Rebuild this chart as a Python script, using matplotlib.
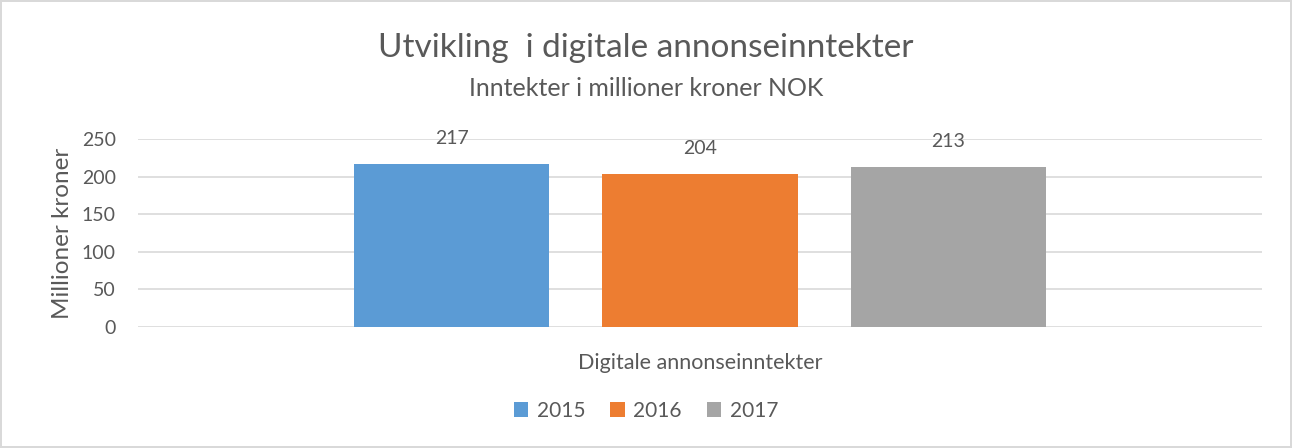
import numpy as np
import matplotlib.pyplot as plt

# data
years = ['2015', '2016', '2017']
values = [217, 204, 213]
category = 'Digitale annonseinntekter'
colors = ['#5B9BD5', '#ED7D31', '#A5A5A5']

plt.rcParams['font.family'] = ['Lato', 'DejaVu Sans']
txt = '#595959'

fig = plt.figure(figsize=(12.92, 4.48), dpi=100)
fig.patch.set_edgecolor('#D9D9D9')
fig.patch.set_linewidth(1.5)
ax = fig.add_axes([138/1292, 1-327/448, 1124/1292, 188/448])

width = 0.1735
offsets = np.array([-0.221, 0.0, 0.221])
for off, yr, v, c in zip(offsets, years, values, colors):
    ax.bar(off, v, width=width, color=c, label=yr, zorder=3)
    ax.text(off, v + 22, str(v), ha='center', va='bottom', fontsize=14, color=txt)

ax.set_xlim(-0.5, 0.5)
ax.set_ylim(0, 250)
ax.set_yticks(range(0, 251, 50))
ax.set_xticks([0])
ax.set_xticklabels([category])
ax.grid(axis='y', color='#D9D9D9', linewidth=1.2, zorder=0)
for s in ax.spines.values():
    s.set_visible(False)
ax.tick_params(axis='y', length=0, labelsize=14, labelcolor=txt, pad=16)
ax.tick_params(axis='x', length=0, labelsize=15.5, labelcolor=txt, pad=19)
ax.set_ylabel('Millioner kroner', fontsize=17.5, color=txt, labelpad=6)

fig.text(0.5, 1-48/448, 'Utvikling  i digitale annonseinntekter', ha='center', va='center', fontsize=24, color=txt)
fig.text(0.5, 1-88/448, 'Inntekter i millioner kroner NOK', ha='center', va='center', fontsize=18, color=txt)

leg = fig.legend(loc='center', bbox_to_anchor=(0.5, 1-411/448), ncol=3, frameon=False,
                 fontsize=15, handlelength=0.7, handleheight=0.7, handletextpad=0.4, columnspacing=1.2)
for t in leg.get_texts():
    t.set_color(txt)

fig.savefig('out.png', dpi=100)
